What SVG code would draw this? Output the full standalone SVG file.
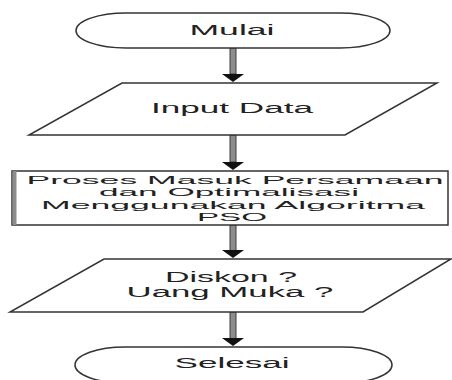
<svg xmlns="http://www.w3.org/2000/svg" width="452" height="380" viewBox="0 0 452 380">
<style>
.shape{fill:#ffffff;stroke:#333333;stroke-width:1.5}
.lbl{font-family:"Liberation Sans",Arial,sans-serif;font-size:14px;fill:#222222;text-anchor:middle}
.plbl{font-size:11.5px}
.shaft{fill:#8c8c8c;stroke:#3c3c3c;stroke-width:1}
.head{fill:#111111}
</style>
<rect width="452" height="380" fill="#ffffff"/>
<g id="connectors">
  <rect class="shaft" x="230" y="48" width="6" height="26"/>
  <polygon class="head" points="222,74 244,74 233,82"/>
  <rect class="shaft" x="230" y="135" width="6" height="27"/>
  <polygon class="head" points="222,162 244,162 233,170"/>
  <rect class="shaft" x="230" y="225" width="6" height="26"/>
  <polygon class="head" points="222,250 244,250 233,258"/>
  <rect class="shaft" x="230" y="312" width="6" height="27"/>
  <polygon class="head" points="222,338 244,338 233,346"/>
</g>
<g id="mulai">
  <rect class="shape" x="76" y="13" width="314" height="35" rx="50" ry="17.5"/>
  <text class="lbl" x="232" y="35" textLength="85" lengthAdjust="spacingAndGlyphs">Mulai</text>
</g>
<g id="input-data">
  <polygon class="shape" points="122,83 437,83 345,135 29,135"/>
  <text class="lbl" x="232" y="113" textLength="162" lengthAdjust="spacingAndGlyphs">Input Data</text>
</g>
<g id="proses">
  <rect class="shape" x="12" y="171" width="436" height="54"/>
  <line x1="14.5" y1="171" x2="14.5" y2="225" stroke="#8c8c8c" stroke-width="4"/>
  <text class="lbl plbl" x="235" y="183.5" textLength="417" lengthAdjust="spacingAndGlyphs">Proses Masuk Persamaan</text>
  <text class="lbl plbl" x="229" y="196" textLength="260" lengthAdjust="spacingAndGlyphs">dan Optimalisasi</text>
  <text class="lbl plbl" x="233" y="208.5" textLength="384" lengthAdjust="spacingAndGlyphs">Menggunakan Algoritma</text>
  <text class="lbl plbl" x="232" y="221" textLength="70" lengthAdjust="spacingAndGlyphs">PSO</text>
</g>
<g id="diskon">
  <polygon class="shape" points="104,259 451,259 363,312 10,312"/>
  <text class="lbl" x="231" y="282" textLength="132" lengthAdjust="spacingAndGlyphs">Diskon ?</text>
  <text class="lbl" x="230" y="297" textLength="207" lengthAdjust="spacingAndGlyphs">Uang Muka ?</text>
</g>
<g id="selesai">
  <rect class="shape" x="75" y="347" width="317" height="36" rx="50" ry="18"/>
  <text class="lbl" x="232" y="368" textLength="115" lengthAdjust="spacingAndGlyphs">Selesai</text>
</g>
</svg>
